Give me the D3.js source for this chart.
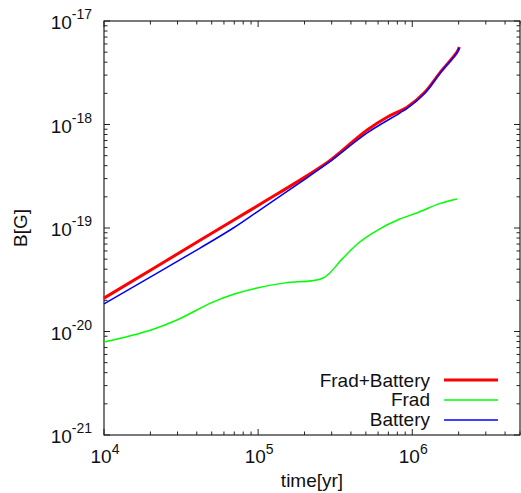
<!DOCTYPE html>
<html>
<head>
<meta charset="utf-8">
<script src="https://cdn.jsdelivr.net/npm/d3@7"></script>
<style>
  body { margin: 0; background: #fff; }
  text { font-family: "Liberation Sans", Arial, sans-serif; fill: #111; }
</style>
</head>
<body>
<div id="chart"></div>
<script>
// values (time in yr, B in G)
const bothTime = [1e4, 4.2e4, 7e4, 1.1e5, 1.87e5, 2.84e5, 3.1e5, 5.1e5, 6.9e5, 9.3e5, 1.21e6, 1.51e6, 1.95e6, 2.02e6];
const bothB = [2.1e-20, 7.6e-20, 1.2e-19, 1.8e-19, 2.9e-19, 4.35e-19, 4.8e-19, 8.85e-19, 1.18e-18, 1.48e-18, 2.06e-18, 3.15e-18, 5.0e-18, 5.6e-18];

const fradTime = [1e4, 2e4, 3e4, 5e4, 7e4, 1e5, 1.5e5, 2.64e5, 3.5e5, 4.5e5, 6e5, 8.3e5, 1.1e6, 1.5e6, 1.95e6];
const fradB = [7.9e-21, 1.03e-20, 1.3e-20, 1.9e-20, 2.3e-20, 2.65e-20, 2.95e-20, 3.29e-20, 5.0e-20, 7.2e-20, 9.6e-20, 1.22e-19, 1.42e-19, 1.72e-19, 1.91e-19];

const battTime = [1e4, 4.2e4, 6.9e4, 1.03e5, 1.87e5, 2.84e5, 5.1e5, 8.3e5, 9.3e5, 1.21e6, 1.51e6, 1.95e6, 2.02e6];
const battB = [1.85e-20, 6.4e-20, 1.0e-19, 1.5e-19, 2.75e-19, 4.25e-19, 8.3e-19, 1.29e-18, 1.44e-18, 2.02e-18, 3.12e-18, 4.95e-18, 5.5e-18];

const xMajor = [1e4, 1e5, 1e6];
const xExp = ["4", "5", "6"];
const yMajor = [1e-21, 1e-20, 1e-19, 1e-18, 1e-17];
const yExp = ["-21", "-20", "-19", "-18", "-17"];

const seriesNames = ["Frad+Battery", "Frad", "Battery"];
const seriesColors = ["#ff0000", "#00ff00", "#0000ff"];
const seriesWidths = [3, 1.5, 1.5];

const W = 521, H = 493;
const margin = { top: 21, right: 1, bottom: 58, left: 104 };
const width = W - margin.left - margin.right;
const height = H - margin.top - margin.bottom;

const svg = d3.select("#chart").append("svg")
    .attr("width", W)
    .attr("height", H);

const g = svg.append("g")
    .attr("transform", `translate(${margin.left},${margin.top})`);

const x = d3.scaleLog().domain([1e4, 5e6]).range([0, width]);
const y = d3.scaleLog().domain([1e-21, 1e-17]).range([height, 0]);

const axisColor = "#222";

// ticks on all four sides, gnuplot style
const xMinor = x.ticks().filter(v => !xMajor.some(m => Math.abs(v / m - 1) < 1e-6));
const yMinor = y.ticks().filter(v => !yMajor.some(m => Math.abs(v / m - 1) < 1e-6));

function tickX(vals, len) {
    vals.forEach(v => {
        g.append("line").attr("x1", x(v)).attr("x2", x(v))
            .attr("y1", height).attr("y2", height - len)
            .attr("stroke", axisColor).attr("stroke-width", 1);
        g.append("line").attr("x1", x(v)).attr("x2", x(v))
            .attr("y1", 0).attr("y2", len)
            .attr("stroke", axisColor).attr("stroke-width", 1);
    });
}
function tickY(vals, len) {
    vals.forEach(v => {
        g.append("line").attr("x1", 0).attr("x2", len)
            .attr("y1", y(v)).attr("y2", y(v))
            .attr("stroke", axisColor).attr("stroke-width", 1);
        g.append("line").attr("x1", width).attr("x2", width - len)
            .attr("y1", y(v)).attr("y2", y(v))
            .attr("stroke", axisColor).attr("stroke-width", 1);
    });
}
tickX(xMajor, 6);
tickX(xMinor, 3.5);
tickY(yMajor, 6);
tickY(yMinor, 3.5);

g.append("rect")
    .attr("x", 0).attr("y", 0)
    .attr("width", width).attr("height", height)
    .attr("fill", "none")
    .attr("stroke", axisColor)
    .attr("stroke-width", 1.2);

// tick labels
xMajor.forEach((v, i) => {
    const t = g.append("text")
        .attr("x", x(v) + 1)
        .attr("y", height + 28)
        .attr("text-anchor", "middle")
        .style("font-size", "19px");
    t.append("tspan").text("10");
    t.append("tspan").attr("dy", -9).style("font-size", "14px").text(xExp[i]);
});
yMajor.forEach((v, i) => {
    const t = g.append("text")
        .attr("x", -12)
        .attr("y", y(v) + 8)
        .attr("text-anchor", "end")
        .style("font-size", "19px");
    t.append("tspan").text("10");
    t.append("tspan").attr("dy", -10).style("font-size", "14px").text(yExp[i]);
});

// axis titles
svg.append("text")
    .attr("x", margin.left + width / 2)
    .attr("y", 487)
    .attr("text-anchor", "middle")
    .style("font-size", "19px")
    .text("time[yr]");

svg.append("text")
    .attr("transform", `translate(27,${margin.top + height / 2}) rotate(-90)`)
    .attr("text-anchor", "middle")
    .style("font-size", "19px")
    .text("B[G]");

// curves
const line = d3.line()
    .x(d => x(d[0]))
    .y(d => y(d[1]))
    .curve(d3.curveCatmullRom.alpha(0.5));

const series = [
    d3.zip(bothTime, bothB),
    d3.zip(fradTime, fradB),
    d3.zip(battTime, battB)
];

series.forEach((s, i) => {
    g.append("path")
        .datum(s)
        .attr("fill", "none")
        .attr("stroke", seriesColors[i])
        .attr("stroke-width", seriesWidths[i])
        .attr("stroke-linejoin", "round")
        .attr("d", line);
});

// legend
const legend = g.append("g").attr("transform", `translate(${width - 90},${height - 55})`);
seriesNames.forEach((name, i) => {
    legend.append("text")
        .attr("x", 0)
        .attr("y", i * 19.5 + 6.5)
        .attr("text-anchor", "end")
        .style("font-size", "19px")
        .text(name);
    legend.append("line")
        .attr("x1", 14).attr("x2", 68)
        .attr("y1", i * 20).attr("y2", i * 20)
        .attr("stroke", seriesColors[i])
        .attr("stroke-width", seriesWidths[i]);
});
</script>
</body>
</html>
